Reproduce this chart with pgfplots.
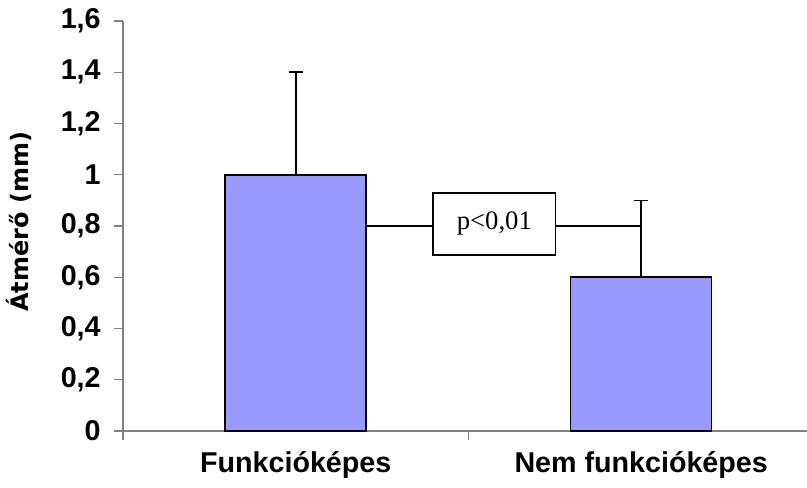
\documentclass[border=0pt]{standalone}
\usepackage{pgfplots}
\pgfplotsset{compat=1.18}
\usepackage{fontspec}
\setmainfont{Liberation Sans}
\newfontfamily\boxfont{Liberation Serif}
\newfontfamily\labelfont{DejaVu Sans}
\definecolor{barblue}{HTML}{9999FF}

\begin{document}
\begin{tikzpicture}
\useasboundingbox (-92.25pt,-42.75pt) rectangle (513pt,323.25pt);
\begin{axis}[
  at={(0,0)}, anchor=south west,
  scale only axis, width=513pt, height=307.5pt,
  xmin=-0.5, xmax=1.48, ymin=0, ymax=1.6,
  axis x line=bottom, axis y line=left,
  axis line style={-, draw=gray, line width=1pt},
  tick align=outside,
  major tick length=6.75pt,
  tick style={draw=gray, line width=1pt},
  xtick={-0.5,0.5}, xticklabels={,},
  extra x ticks={0,1},
  extra x tick labels={Funkcióképes,Nem funkcióképes},
  extra x tick style={tick style={draw=none},
    xticklabel style={yshift=-5pt}},
  ytick={0,0.2,0.4,0.6,0.8,1,1.2,1.4,1.6},
  /pgf/number format/assume math mode=true,
  /pgf/number format/use comma,
  /pgf/number format/fixed,
  /pgf/number format/precision=1,
  ticklabel style={font=\fontsize{21.5}{25}\selectfont\bfseries},
  yticklabel style={xshift=-6.5pt},
  ylabel={Átmérő (mm)},
  ylabel style={font=\labelfont\fontsize{18}{22}\selectfont\bfseries,
    at={(axis description cs:-0.152,0.51)}, anchor=center},
  clip=false,
]
\addplot[ybar, bar width=105.75pt, fill=barblue, draw=black, line width=1.2pt,
  error bars/.cd, y dir=plus, y explicit,
  error bar style={black, line width=1.2pt},
  error mark options={rotate=90, mark size=5.25pt, line width=1.2pt, black}]
  coordinates {(0,1.0) +- (0,0.4) (1,0.6) +- (0,0.3)};
% significance bracket between the two groups
\draw[black, line width=1.2pt] (axis cs:0.204,0.8) -- (axis cs:1,0.8);
\node[draw=black, fill=white, line width=1.2pt, minimum width=92pt,
  minimum height=46.5pt, inner sep=0pt,
  font=\boxfont\fontsize{20}{24}\selectfont]
  at (axis cs:0.575,0.808) {p<0,01};
\end{axis}
\end{tikzpicture}
\end{document}
